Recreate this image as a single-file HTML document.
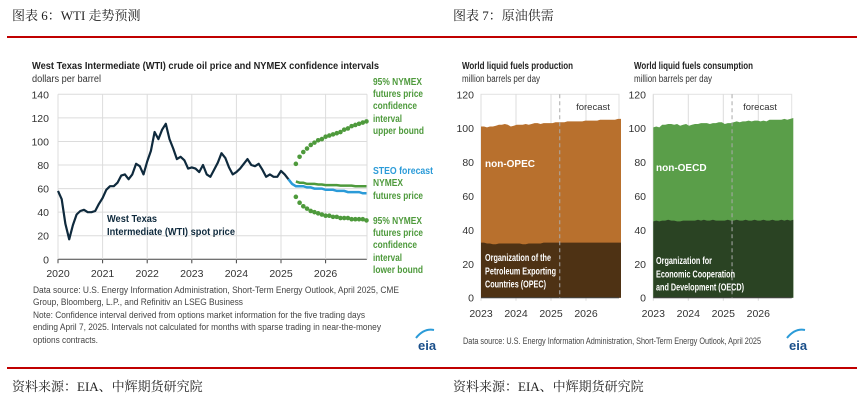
<!DOCTYPE html>
<html><head><meta charset="utf-8">
<style>
html,body{margin:0;padding:0;background:#fff;}
body{width:862px;height:403px;overflow:hidden;position:relative;}
svg{position:absolute;left:0;top:0;}
text{font-family:"Liberation Sans Narrow","Liberation Sans",sans-serif;}
.cn{font-family:"Liberation Serif","Noto Serif CJK SC",serif;}
</style></head>
<body>
<svg id="s" width="862" height="403">
  <text class="cn" x="12" y="20" font-size="13" fill="#222">图表 6：WTI 走势预测</text>
  <text class="cn" x="453" y="20" font-size="13" fill="#222">图表 7：原油供需</text>
  <rect x="7" y="36" width="850" height="2" fill="#c00000"/>
  <rect x="7" y="367" width="850" height="2" fill="#c00000"/>
  <text class="cn" x="12" y="391" font-size="13" fill="#222">资料来源：EIA、中辉期货研究院</text>
  <text class="cn" x="453" y="391" font-size="13" fill="#222">资料来源：EIA、中辉期货研究院</text>
  <g id="wti"></g>
  <g id="prod"></g>
  <g id="cons"></g>
</svg>
<script>
// ---- WTI data (monthly, Jan 2020 ...) ----
const wtiYears = ["2020","2021","2022","2023","2024","2025","2026"];
const wtiTicks = [0,20,40,60,80,100,120,140];
const wtiSpot = [58,51,30,17,29,38,41,42,40,40,41,47,
  52,59,62,62,65,71,72,68,72,81,79,72,
  83,92,108,102,110,115,102,94,85,87,84,77,
  78,77,74,80,72,70,76,82,90,86,78,72,
  74,77,81,85,80,79,81,76,70,72,70,70,
  75,72,68];
const steoStart = 62; // month index (Mar 2025)
const steoForecast = [68,64,62,62,62,61,61,60,60,60,59,59,59,58,58,58,57,57,57,57,56,56];
const nymexStart = 64;
const nymexFutures = [66,65,65,64,64,64,63.5,63.5,63,63,63,63,62.5,62.5,62.5,62.5,62,62,62,62];
const upperBound = [81,87,91,94,97,99,101,102,104,105,106,107,108,110,111,113,114,115,116,117];
const lowerBound = [53,48,45,43,41,40,39,38,37,37,36,36,35,35,35,34,34,34,34,33];

// ---- Production / consumption (monthly Jan 2023 - Dec 2026) ----
const supplyYears = ["2023","2024","2025","2026"];
const supplyTicks = [0,20,40,60,80,100,120];
const prodTotal = [101,101,100.5,101,101,101.5,102,102,102.5,102,101,101.5,
  102,102,102,102.5,102,102.5,103,103,102.5,103,103,103,
  103,103.5,103.5,103.5,103.5,104,104,104,104,104,104,104.5,
  104.5,104.5,104.5,104.5,105,105,105,105,105,105,105.5,105.5];
const prodOpec = [32.5,32.5,32,32,31.5,31.5,32,32,32,32,32,32,
  32,32,31.5,31.5,32,32,32,32,32,32.5,32.5,32.5,
  32.5,32.5,32.5,32.5,32.5,32.5,32.5,32.5,32.5,32.5,32.5,32.5,
  32.5,32.5,32.5,32.5,32.5,32.5,32.5,32.5,32.5,32.5,32.5,32.5];
const consTotal = [100.5,101,100.5,102,102,102.5,102.5,102,102.5,101.5,102,102.5,
  101.5,102,102.5,102.5,103,103,103,102.5,103,103,103.5,103.5,
  102.5,103,103,103.5,104,103.5,104,104,104.5,104,104.5,104.5,
  104,104.5,104,105,105,105,105,105,105.5,105,105.5,106];
const consOecd = [45,45.5,45,45.5,45.5,46,45.5,45.5,45,45,45.5,45.5,
  45.5,45.5,45.5,46,45.5,46,45.5,45.5,46,45.5,45.5,45.5,
  45.5,46,45.5,45.5,46,45.5,45.5,46,45.5,45.5,46,45.5,
  45.5,46,45.5,45.5,46,45.5,45.5,46,45.5,46,45.5,46];
const forecastMonth = 27; // Apr 2025

const NS="http://www.w3.org/2000/svg";
function mk(parent,tag,attrs,txt){const e=document.createElementNS(NS,tag);for(const k in attrs)e.setAttribute(k,attrs[k]);if(txt!==undefined)e.textContent=txt;parent.appendChild(e);return e;}
function fit(e,w){e.setAttribute('textLength',w);e.setAttribute('lengthAdjust','spacingAndGlyphs');return e;}

// ===== WTI chart =====
(function(){
  const g=document.getElementById('wti');
  const x0=58, perYear=44.6, y0=259.3, yPer=165/140, xEnd=367;
  const X=m=>x0+m*perYear/12, Y=v=>y0-v*yPer;
  let t=fit(mk(g,'text',{x:32,y:69,'font-size':10.5,'font-weight':'bold',fill:'#222'},'West Texas Intermediate (WTI) crude oil price and NYMEX confidence intervals'),347);
  
  t=fit(mk(g,'text',{x:32,y:82,'font-size':10,fill:'#333'},'dollars per barrel'),69);
  
  wtiTicks.forEach(v=>{
    const l=mk(g,'line',{x1:x0,x2:xEnd,y1:Y(v),y2:Y(v),stroke:v===0?'#444':'#dcdcdc','stroke-width':1});
    
    const tx=mk(g,'text',{x:49,y:Y(v)+4,'font-size':10.5,fill:'#333','text-anchor':'end'},String(v));
    
  });
  wtiYears.forEach((yr,i)=>{
    const x=x0+i*perYear;
    const l=mk(g,'line',{x1:x,x2:x,y1:Y(140),y2:y0+3,stroke:'#dcdcdc'});
    
    const tk=mk(g,'line',{x1:x,x2:x,y1:y0,y2:y0+4,stroke:'#444'});
    
    const tx=mk(g,'text',{x:x,y:277,'font-size':10.5,fill:'#333','text-anchor':'middle'},yr);
    
  });
  const rb=mk(g,'line',{x1:xEnd,x2:xEnd,y1:Y(140),y2:y0,stroke:'#dcdcdc'});
  
  const pts=(arr,s)=>arr.map((v,i)=>X(s+i).toFixed(1)+','+Y(v).toFixed(1)).join(' ');
  let p=mk(g,'polyline',{points:pts(steoForecast,steoStart),fill:'none',stroke:'#2b9bd8','stroke-width':2.5});
  
  p=mk(g,'polyline',{points:pts(nymexFutures,nymexStart),fill:'none',stroke:'#4e9a3c','stroke-width':2.5});
  
  p=mk(g,'polyline',{points:pts(wtiSpot,0),fill:'none',stroke:'#0f2a3d','stroke-width':2.2,'stroke-linejoin':'round'});
  
  [[upperBound,'upper-bound-dot'],[lowerBound,'lower-bound-dot']].forEach(([arr,nm])=>{
    arr.forEach((v,i)=>{
      const c=mk(g,'circle',{cx:X(nymexStart+i),cy:Y(v),r:2.3,fill:'#4e9a3c'});
      
    });
  });
  const ann=[[85,'95% NYMEX','#4e9a3c',49],[97,'futures price','#4e9a3c',50],[109,'confidence','#4e9a3c',44],[122,'interval','#4e9a3c',29],[134,'upper bound','#4e9a3c',51],
    [174,'STEO forecast','#2b9bd8',60],[186,'NYMEX','#4e9a3c',30],[199,'futures price','#4e9a3c',50],
    [224,'95% NYMEX','#4e9a3c',49],[236,'futures price','#4e9a3c',50],[248,'confidence','#4e9a3c',44],[261,'interval','#4e9a3c',29],[273,'lower bound','#4e9a3c',50]];
  ann.forEach(([y,s,c,w])=>{const e=fit(mk(g,'text',{x:373,y:y,'font-size':10,'font-weight':'bold',fill:c},s),w);
    });
  [[222,'West Texas',50],[235,'Intermediate (WTI) spot price',128]].forEach(([y,s,w])=>{const e=fit(mk(g,'text',{x:107,y:y,'font-size':10.5,'font-weight':'bold',fill:'#0f2a3d'},s),w);
    });
  [[293,'Data source: U.S. Energy Information Administration, Short-Term Energy Outlook, April 2025, CME',366],[305,'Group, Bloomberg, L.P., and Refinitiv an LSEG Business',210],
   [318,'Note: Confidence interval derived from options market information for the five trading days',332],[330,'ending April 7, 2025. Intervals not calculated for months with sparse trading in near-the-money',348],[343,'options contracts.',65]]
   .forEach(([y,s,w])=>{const e=fit(mk(g,'text',{x:33,y:y,'font-size':9,fill:'#444'},s),w);});
  const lg=mk(g,'text',{x:418,y:350,'font-size':13,'font-weight':'bold',fill:'#1a4f8a'},'eia');
  
  const arc=mk(g,'path',{d:'M416,338 Q424,328 434,330',fill:'none',stroke:'#2b9bd8','stroke-width':2});
  
})();

// ===== Area charts =====
function areaChart(id,cfg){
  const g=document.getElementById(id);
  const {x0,x1,perYear,title,total,base,topColor,botColor,topLabel,botLabels,labelX,topLabelY,botY,forecastLabelX,ylabX}=cfg;
  const y0=297.7,yPer=(297.7-94.3)/120;
  const X=m=>x0+m*perYear/12, Y=v=>y0-v*yPer;
  let t=fit(mk(g,'text',{x:cfg.titleX,y:69,'font-size':10.5,'font-weight':'bold',fill:'#222'},title),cfg.titleW);
  
  t=fit(mk(g,'text',{x:cfg.titleX,y:82,'font-size':10,fill:'#333'},'million barrels per day'),78);
  
  const rect=mk(g,'rect',{x:x0,y:Y(120),width:x1-x0,height:y0-Y(120),fill:'#fff',stroke:'#e2e2e2'});
  
  supplyTicks.forEach(v=>{
    const tx=mk(g,'text',{x:ylabX,y:Y(v)+4,'font-size':10.5,fill:'#333','text-anchor':'end'},String(v));
    
  });
  supplyYears.forEach((yr,i)=>{
    const x=x0+i*perYear;
    const l=mk(g,'line',{x1:x,x2:x,y1:Y(120),y2:y0+3,stroke:'#dcdcdc'});
    
    const tx=mk(g,'text',{x:x,y:317,'font-size':10.5,fill:'#333','text-anchor':'middle'},yr);
    
  });
  const n=total.length;
  let top='M'+X(0)+','+Y(0);
  total.forEach((v,i)=>top+=' L'+X(i*(n)/(n-1)).toFixed(1)+','+Y(v).toFixed(1));
  top+=' L'+X(n)+','+Y(0)+' Z';
  let a=mk(g,'path',{d:top,fill:topColor});
  let bot='M'+X(0)+','+Y(0);
  base.forEach((v,i)=>bot+=' L'+X(i*(n)/(n-1)).toFixed(1)+','+Y(v).toFixed(1));
  bot+=' L'+X(n)+','+Y(0)+' Z';
  a=mk(g,'path',{d:bot,fill:botColor});
  const ax=mk(g,'line',{x1:x0,x2:x1,y1:y0,y2:y0,stroke:'#444'});
  const fx=X(forecastMonth);
  const fl=mk(g,'line',{x1:fx,x2:fx,y1:Y(120),y2:y0,stroke:'#aaa','stroke-dasharray':'4,3'});
  
  t=mk(g,'text',{x:forecastLabelX,y:110,'font-size':9.5,fill:'#333','text-anchor':'middle'},'forecast');
  
  t=mk(g,'text',{x:labelX,y:topLabelY,'font-size':10,'font-weight':'bold',fill:'#fff'},topLabel);
  
  botLabels.forEach((s,i)=>{const e=fit(mk(g,'text',{x:labelX,y:botY+i*13.3,'font-size':10,'font-weight':'bold',fill:'#fff'},s),cfg.botW[i]);
    });
}
areaChart('prod',{x0:481,x1:619,perYear:35,titleX:462,titleW:111,title:'World liquid fuels production',total:prodTotal,base:prodOpec,
  topColor:'#b8702d',botColor:'#4e3214',topLabel:'non-OPEC',botLabels:['Organization of the','Petroleum Exporting','Countries (OPEC)'],botW:[66,71,61],
  labelX:485,topLabelY:167,botY:261,forecastLabelX:593,ylabX:474});
areaChart('cons',{x0:653.3,x1:791.7,perYear:35,titleX:634,titleW:119,title:'World liquid fuels consumption',total:consTotal,base:consOecd,
  topColor:'#5a9e49',botColor:'#2a4323',topLabel:'non-OECD',botLabels:['Organization for','Economic Cooperation','and Development (OECD)'],botW:[56,79,88],
  labelX:656,topLabelY:171,botY:264,forecastLabelX:760,ylabX:646});
(function(){
  const g=document.getElementById('cons');
  const e=fit(mk(g,'text',{x:463,y:344,'font-size':9,fill:'#444'},'Data source: U.S. Energy Information Administration, Short-Term Energy Outlook, April 2025'),298);
  
  const lg=mk(g,'text',{x:789,y:350,'font-size':13,'font-weight':'bold',fill:'#1a4f8a'},'eia');
  
  const arc=mk(g,'path',{d:'M787,338 Q795,328 805,330',fill:'none',stroke:'#2b9bd8','stroke-width':2});
  
})();
</script>
</body></html>
